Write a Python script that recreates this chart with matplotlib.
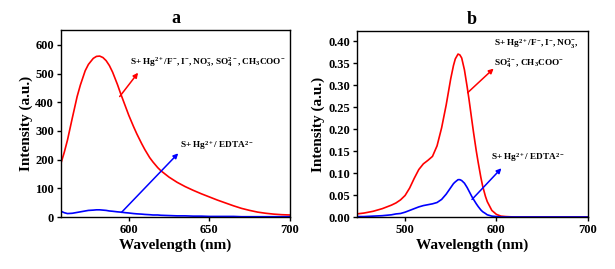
import matplotlib
matplotlib.use("Agg")
import matplotlib.pyplot as plt

plt.rcParams["font.family"] = ["Liberation Serif", "DejaVu Serif"]
plt.rcParams["font.weight"] = "bold"
plt.rcParams["mathtext.fontset"] = "custom"
plt.rcParams["mathtext.rm"] = "Liberation Serif:bold"
plt.rcParams["mathtext.it"] = "Liberation Serif:bold"
plt.rcParams["mathtext.bf"] = "Liberation Serif:bold"

# panel a
wl_a = [558, 560, 562, 565, 568, 570, 573, 575, 578, 580, 582, 584, 586, 588, 590,
        593, 595, 598, 600, 603, 605, 608, 610, 613, 615, 618, 620, 625, 630, 635,
        640, 645, 650, 655, 660, 665, 670, 675, 680, 685, 690, 695, 700]
red_a = [188, 225, 268, 345, 420, 460, 510, 532, 553, 560, 561, 556, 545, 528, 505,
         462, 430, 385, 355, 315, 290, 256, 235, 207, 192, 172, 161, 139, 121, 106,
         93, 81, 70, 59, 49, 39, 30, 23, 17, 13, 10, 8, 7]
blue_a = [20, 15, 12, 13, 16, 18, 21, 23, 24, 25, 25, 24, 23, 21, 20,
          18, 17, 15, 14, 12, 11, 10, 9, 8, 7, 7, 6, 5, 4, 4,
          3, 3, 2, 2, 2, 2, 1, 1, 1, 1, 1, 1, 1]

# panel b
wl_b = [447, 455, 465, 475, 485, 490, 495, 500, 505, 510, 515, 520, 525, 530, 535,
        540, 545, 550, 553, 555, 558, 560, 562, 565, 568, 570, 573, 575, 578, 580,
        583, 585, 588, 590, 595, 600, 605, 610, 620, 700]
red_b = [0.007, 0.009, 0.013, 0.019, 0.027, 0.032, 0.039, 0.049, 0.066, 0.088, 0.108,
         0.121, 0.129, 0.138, 0.162, 0.203, 0.255, 0.315, 0.345, 0.360, 0.371, 0.369,
         0.362, 0.335, 0.296, 0.268, 0.222, 0.192, 0.150, 0.125, 0.090, 0.070, 0.047,
         0.035, 0.015, 0.006, 0.002, 0.001, 0.0, 0.0]
blue_b = [0.001, 0.001, 0.002, 0.003, 0.005, 0.007, 0.008, 0.011, 0.015, 0.019, 0.023,
          0.026, 0.028, 0.030, 0.033, 0.040, 0.052, 0.067, 0.076, 0.080, 0.085, 0.085,
          0.083, 0.077, 0.067, 0.059, 0.047, 0.040, 0.030, 0.024, 0.016, 0.012, 0.008,
          0.005, 0.002, 0.001, 0.0, 0.0, 0.0, 0.0]

label_red = r"S+ Hg$^{2+}$/F$^{-}$, I$^{-}$, NO$_3^{-}$, SO$_4^{2-}$, CH$_3$COO$^{-}$"
label_red_1 = r"S+ Hg$^{2+}$/F$^{-}$, I$^{-}$, NO$_3^{-}$,"
label_red_2 = r"SO$_4^{2-}$, CH$_3$COO$^{-}$"
label_blue = r"S+ Hg$^{2+}$/ EDTA$^{2-}$"

fig = plt.figure(figsize=(6.15, 2.69), dpi=100)
ax1 = fig.add_axes([0.0992, 0.1933, 0.3723, 0.6952])
ax2 = fig.add_axes([0.580, 0.1933, 0.3756, 0.6915])


def style(ax, title):
    ax.set_title(title, fontsize=13, fontweight="bold", pad=5)
    ax.set_xlabel("Wavelength (nm)", fontsize=11, fontweight="bold", labelpad=2)
    ax.set_ylabel("Intensity (a.u.)", fontsize=11, fontweight="bold", labelpad=2)
    ax.tick_params(direction="out", length=3, width=1, labelsize=9, pad=2)
    for lab in ax.get_xticklabels() + ax.get_yticklabels():
        lab.set_fontweight("bold")
    for s in ax.spines.values():
        s.set_linewidth(1.0)


def arrow(ax, start, end, color):
    ax.annotate("", xy=end, xytext=start,
                arrowprops=dict(arrowstyle="-|>", color=color, lw=1.1,
                                mutation_scale=7, shrinkA=0, shrinkB=0))


ax1.plot(wl_a, red_a, color="#ff0000", lw=1.2)
ax1.plot(wl_a, blue_a, color="#0000ff", lw=1.2)
ax1.set_xlim(558, 700)
ax1.set_ylim(0, 652)
ax1.set_xticks([600, 650, 700])
ax1.set_yticks([0, 100, 200, 300, 400, 500, 600])
arrow(ax1, (594.4, 420), (605.8, 503), "#ff0000")
arrow(ax1, (595.5, 16), (630.7, 222), "#0000ff")
ax1.text(601, 540, label_red, fontsize=6.7, va="center", ha="left")
ax1.text(631.7, 248, label_blue, fontsize=6.7, va="center", ha="left")
style(ax1, "a")

ax2.plot(wl_b, red_b, color="#ff0000", lw=1.2)
ax2.plot(wl_b, blue_b, color="#0000ff", lw=1.2)
ax2.set_xlim(447, 700)
ax2.set_ylim(0, 0.4235)
ax2.set_xticks([500, 600, 700])
ax2.set_yticks([0.0, 0.05, 0.10, 0.15, 0.20, 0.25, 0.30, 0.35, 0.40])
ax2.set_yticklabels(["%.2f" % v for v in ax2.get_yticks()])
arrow(ax2, (568.5, 0.283), (597, 0.338), "#ff0000")
arrow(ax2, (573.3, 0.040), (605.5, 0.111), "#0000ff")
ax2.text(597, 0.396, label_red_1, fontsize=6.7, va="center", ha="left")
ax2.text(597, 0.349, label_red_2, fontsize=6.7, va="center", ha="left")
ax2.text(594.5, 0.135, label_blue, fontsize=6.7, va="center", ha="left")
style(ax2, "b")

fig.savefig("out.png", dpi=100)
